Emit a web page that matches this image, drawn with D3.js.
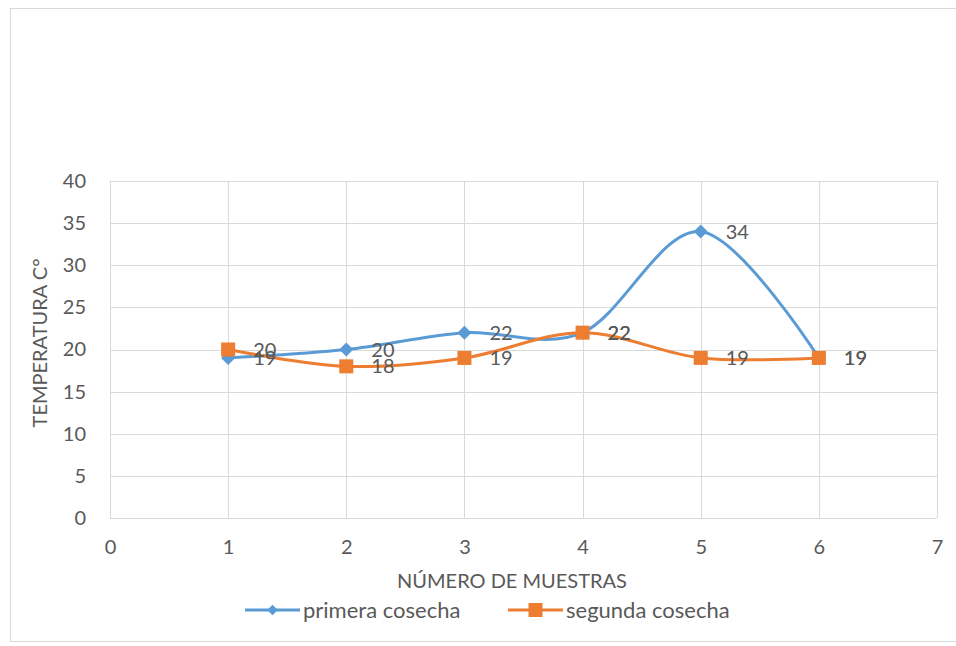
<!DOCTYPE html>
<html>
<head>
<meta charset="utf-8">
<script src="https://cdn.jsdelivr.net/npm/d3@7"></script>
<style>
  body { margin: 0; background: #fff; }
  svg { display: block; font-family: Lato, "Open Sans", sans-serif; }
</style>
</head>
<body>
<div id="chart"></div>
<script>
// chart values
var muestras = [1, 2, 3, 4, 5, 6];
var primera = [19, 20, 22, 22, 34, 19];
var segunda = [20, 18, 19, 22, 19, 19];
var seriesNames = ["primera cosecha", "segunda cosecha"];
var xTicks = [0, 1, 2, 3, 4, 5, 6, 7];
var yTicks = [0, 5, 10, 15, 20, 25, 30, 35, 40];

var width = 956, height = 646;
var blue = "#5b9bd5", orange = "#ed7d31", textCol = "#595959", gridCol = "#d9d9d9";
var fontSize = "20px";

var svg = d3.select("#chart").append("svg")
  .attr("width", width).attr("height", height);

// outer chart frame
svg.append("rect")
  .attr("x", 10.5).attr("y", 8.5)
  .attr("width", 960).attr("height", 633)
  .attr("fill", "#fff").attr("stroke", gridCol);

var x = d3.scaleLinear().domain([0, 7]).range([110, 937]);
var y = d3.scaleLinear().domain([0, 40]).range([518, 181]);

// grid
svg.append("g").selectAll("line").data(yTicks).join("line")
  .attr("x1", x(0)).attr("x2", x(7))
  .attr("y1", d => Math.round(y(d)) + 0.5).attr("y2", d => Math.round(y(d)) + 0.5)
  .attr("stroke", gridCol);
svg.append("g").selectAll("line").data(xTicks).join("line")
  .attr("y1", y(0)).attr("y2", y(40))
  .attr("x1", d => Math.round(x(d)) + 0.5).attr("x2", d => Math.round(x(d)) + 0.5)
  .attr("stroke", gridCol);

// axes, only the labels
var yAxis = svg.append("g").attr("transform", "translate(" + x(0) + ",0)")
  .call(d3.axisLeft(y).tickValues(yTicks).tickSize(0).tickPadding(24));
var xAxis = svg.append("g").attr("transform", "translate(0," + y(0) + ")")
  .call(d3.axisBottom(x).tickValues(xTicks).tickFormat(d3.format("d")).tickSize(0).tickPadding(22));
[yAxis, xAxis].forEach(function (a) {
  a.select(".domain").remove();
  a.selectAll("text").attr("fill", textCol).style("font-size", fontSize)
    .style("font-family", "Lato, 'Open Sans', sans-serif");
});

// axis titles
svg.append("text")
  .attr("x", 512).attr("y", 588)
  .attr("text-anchor", "middle").attr("fill", textCol).style("font-size", fontSize)
  .text("NÚMERO DE MUESTRAS");
svg.append("text")
  .attr("transform", "translate(47,343) rotate(-90)")
  .attr("text-anchor", "middle").attr("fill", textCol).style("font-size", fontSize)
  .text("TEMPERATURA C°");

var line = d3.line().curve(d3.curveCatmullRom.alpha(0))
  .x(d => x(d[0])).y(d => y(d[1]));

var series = [
  { name: seriesNames[0], values: primera, color: blue, shape: "diamond" },
  { name: seriesNames[1], values: segunda, color: orange, shape: "square" }
];

function marker(g, shape, color) {
  if (shape === "diamond") {
    g.append("path").attr("d", "M0,-7L7,0L0,7L-7,0Z").attr("fill", color);
  } else {
    g.append("rect").attr("x", -7).attr("y", -7).attr("width", 14).attr("height", 14)
      .attr("fill", color);
  }
}

series.forEach(function (s) {
  var pts = muestras.map((m, i) => [m, s.values[i]]);
  svg.append("path").datum(pts)
    .attr("d", line).attr("fill", "none")
    .attr("stroke", s.color).attr("stroke-width", 3).attr("stroke-linecap", "round");
  svg.append("g").selectAll("g").data(pts).join("g")
    .attr("transform", d => "translate(" + x(d[0]) + "," + y(d[1]) + ")")
    .each(function () { marker(d3.select(this), s.shape, s.color); });
});

// data labels, drawn after both series
series.forEach(function (s) {
  svg.append("g").selectAll("text").data(muestras).join("text")
    .attr("x", (d) => x(d) + 25).attr("y", (d, i) => y(s.values[i]))
    .attr("dy", "0.35em").attr("fill", textCol).style("font-size", fontSize)
    .text((d, i) => s.values[i]);
});

// legend
var legendPos = [245, 508];
series.forEach(function (s, i) {
  var g = svg.append("g").attr("transform", "translate(" + legendPos[i] + ",610)");
  g.append("line").attr("x1", 0).attr("x2", 55).attr("stroke", s.color).attr("stroke-width", 3);
  var m = g.append("g").attr("transform", "translate(27.5,0)" + (s.shape === "diamond" ? " scale(0.75)" : ""));
  marker(m, s.shape, s.color);
  g.append("text").attr("x", 58).attr("dy", "0.35em").attr("fill", textCol)
    .style("font-size", "22px").text(s.name);
});
</script>
</body>
</html>
